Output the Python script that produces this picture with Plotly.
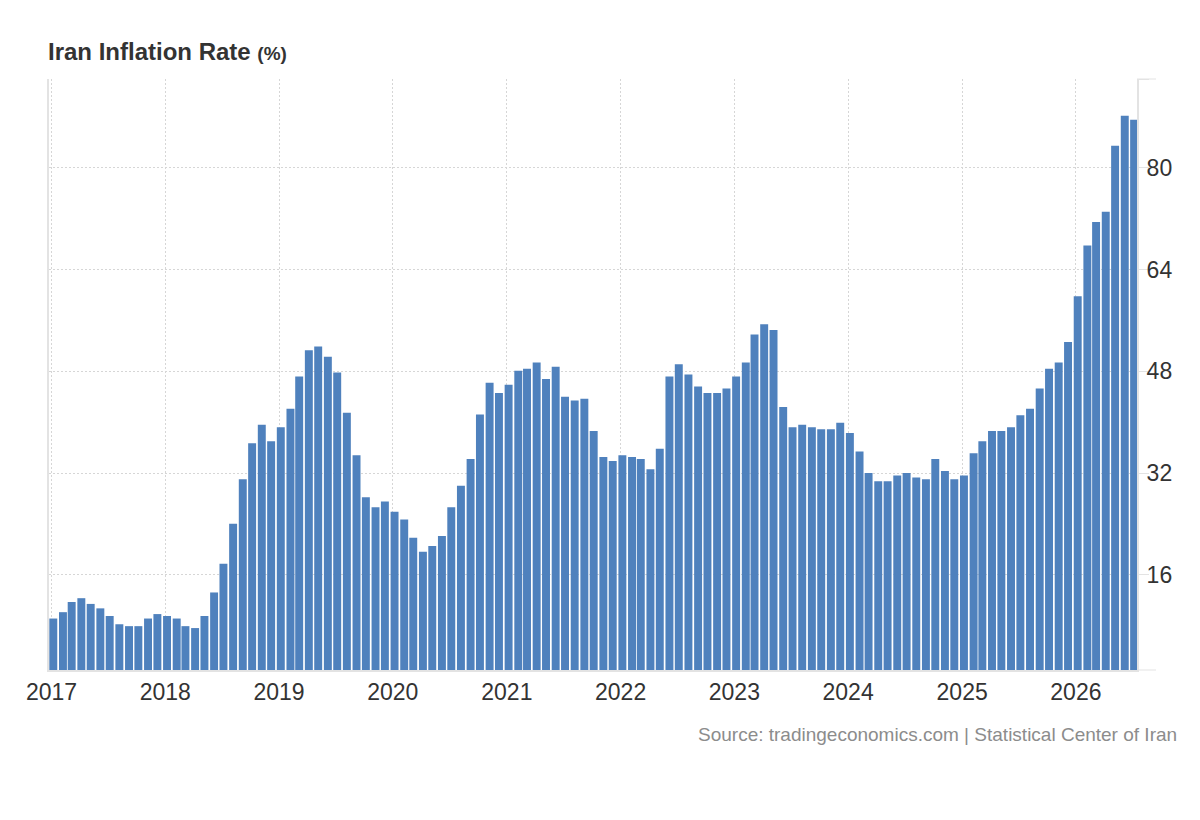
import pandas as pd
import plotly.graph_objects as go

# monthly inflation rate (%), Jan 2017 .. Jul 2026
months = pd.date_range("2017-01-01", periods=115, freq="MS")
inflation = [
    9.1, 10.1, 11.7, 12.3, 11.4, 10.7, 9.5, 8.2, 7.9, 7.9, 9.1, 9.8,          # 2017
    9.5, 9.1, 7.9, 7.6, 9.5, 13.2, 17.7, 24.0, 31.0, 36.7, 39.6, 37.0,        # 2018
    39.2, 42.1, 47.2, 51.3, 51.9, 50.3, 47.8, 41.5, 34.8, 28.2, 26.6, 27.5,   # 2019
    25.9, 24.7, 21.8, 19.6, 20.5, 22.1, 26.6, 30.0, 34.2, 41.2, 46.2, 44.6,   # 2020
    45.9, 48.1, 48.4, 49.4, 46.8, 48.7, 44.0, 43.4, 43.7, 38.6, 34.5, 33.9,   # 2021
    34.8, 34.5, 34.2, 32.6, 35.8, 47.2, 49.1, 47.5, 45.6, 44.6, 44.6, 45.3,   # 2022
    47.2, 49.4, 53.8, 55.4, 54.5, 42.4, 39.2, 39.6, 39.2, 38.9, 38.9, 39.9,   # 2023
    38.3, 35.4, 32.0, 30.7, 30.7, 31.6, 32.0, 31.3, 31.0, 34.2, 32.3, 31.0,   # 2024
    31.6, 35.1, 37.0, 38.6, 38.6, 39.2, 41.1, 42.1, 45.3, 48.4, 49.4, 52.6,   # 2025
    59.8, 67.8, 71.5, 73.1, 83.5, 88.2, 87.6,                                 # 2026
]
y_ticks = [16, 32, 48, 64, 80, 94]
y_labels = ["16", "32", "48", "64", "80", ""]

DAY = 86400000
FONT = "Liberation Sans, Arial, sans-serif"
AXIS_GREY = "#e3e3e3"

fig = go.Figure(go.Bar(
    x=months,
    y=inflation,
    width=25.5 * DAY,
    offset=-7 * DAY,
    marker=dict(color="#4f81bd", line=dict(width=0)),
    name="Inflation Rate",
))

# the page body adds 8px on the left/top, so margins are pulled in by 8px
fig.update_layout(
    width=1200,
    height=820,
    margin=dict(l=41, r=71, t=71, b=158),
    paper_bgcolor="white",
    plot_bgcolor="white",
    showlegend=False,
    font=dict(family=FONT, color="#333333"),
    title=dict(
        text="<b>Iran Inflation Rate</b> <b><span style='font-size:19px'>(%)</span></b>",
        font=dict(size=24, color="#333333", family=FONT),
        x=40 / 1200, xanchor="left", xref="container",
        y=1 - 44 / 820, yanchor="middle", yref="container",
    ),
    xaxis=dict(
        type="date",
        range=["2016-12-24", "2026-07-16"],
        tick0="2017-01-01",
        dtick="M12",
        tickformat="%Y",
        ticks="",
        tickfont=dict(size=23, color="#333333"),
        showgrid=True,
        gridcolor="#d6d6d6",
        griddash="2px,2px",
        gridwidth=1,
        showline=True,
        linecolor=AXIS_GREY,
        linewidth=2,
        zeroline=False,
    ),
    yaxis=dict(
        side="right",
        range=[1, 94],
        tickvals=y_ticks,
        ticktext=y_labels,
        ticks="outside",
        ticklen=10,
        tickcolor=AXIS_GREY,
        ticklabelstandoff=-7,
        tickfont=dict(size=23, color="#333333"),
        showgrid=True,
        gridcolor="#d6d6d6",
        griddash="2px,2px",
        gridwidth=1,
        showline=True,
        mirror=True,
        linecolor=AXIS_GREY,
        linewidth=2,
        zeroline=False,
    ),
    annotations=[dict(
        text="Source: tradingeconomics.com | Statistical Center of Iran",
        xref="paper", yref="paper", x=1, y=0,
        xanchor="right", yanchor="middle",
        xshift=42, yshift=-64,
        showarrow=False,
        font=dict(size=19, color="#8c8c8c", family=FONT),
    )],
    shapes=[
        dict(type="line", xref="paper", yref="paper", x0=1, x1=1 + 19 / 1088, y0=y, y1=y,
             line=dict(color=AXIS_GREY, width=1))
        for y in (0, 1)
    ],
)

fig.write_html("out.html")
